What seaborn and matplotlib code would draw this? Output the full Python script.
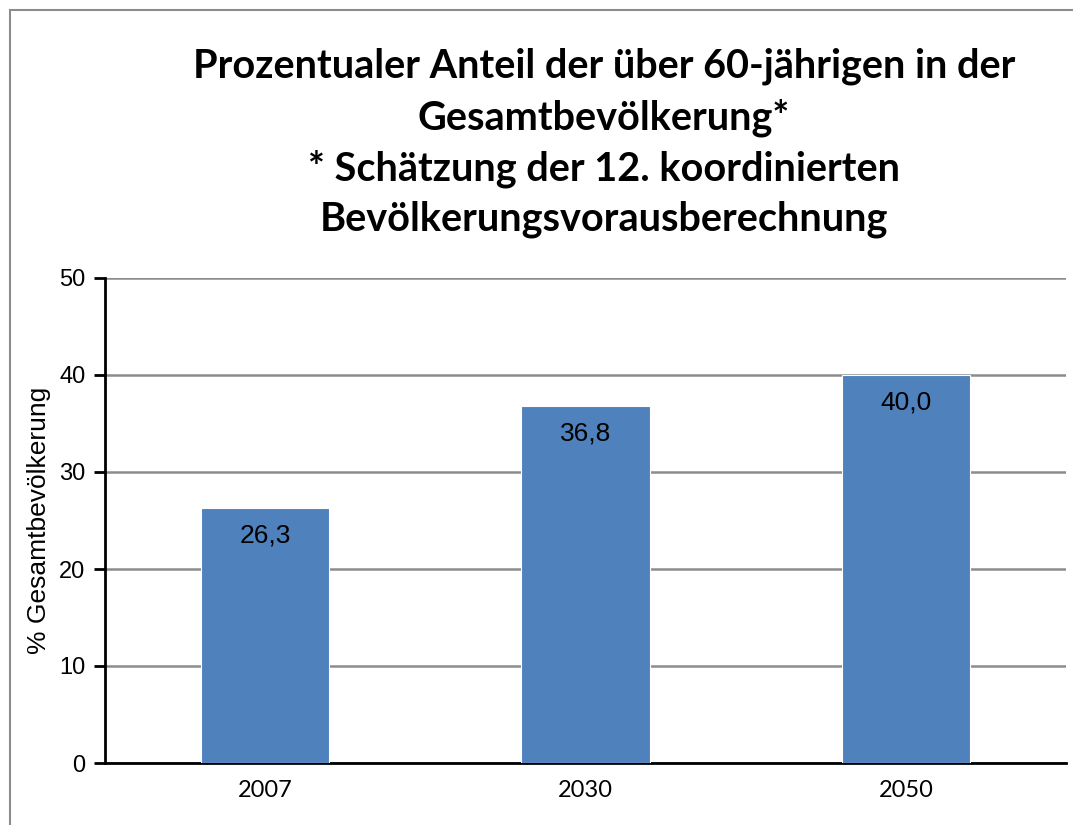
import matplotlib
matplotlib.use("Agg")
import matplotlib.pyplot as plt
import seaborn as sns
import pandas as pd
from matplotlib.patches import Rectangle

# data
years = ["2007", "2030", "2050"]
anteil = [26.3, 36.8, 40.0]
yticks = [0, 10, 20, 30, 40, 50]

title = ("Prozentualer Anteil der über 60-jährigen in der\n"
         "Gesamtbevölkerung*\n"
         "* Schätzung der 12. koordinierten\n"
         "Bevölkerungsvorausberechnung")

sns.set_style("white")
plt.rcParams['font.family'] = ['Liberation Sans', 'DejaVu Sans']
plt.rcParams['text.color'] = 'black'
plt.rcParams['axes.labelcolor'] = 'black'
plt.rcParams['xtick.color'] = 'black'
plt.rcParams['ytick.color'] = 'black'

df = pd.DataFrame({"Jahr": years, "Anteil": anteil})

fig = plt.figure(figsize=(10.73, 8.25), dpi=100)
ax = fig.add_axes([105 / 1073, 62 / 825, 961 / 1073, 485 / 825])

sns.barplot(data=df, x="Jahr", y="Anteil", color="#4F81BD", saturation=1,
            width=0.4, ax=ax, edgecolor="white", linewidth=0.8, zorder=3)

ax.set_ylim(0, 50)
ax.set_yticks(yticks)
ax.yaxis.grid(True, color="#8c8c8c", linewidth=1.8, zorder=0)
ax.set_axisbelow(True)

for s in ["top", "right"]:
    ax.spines[s].set_visible(False)
for s in ["left", "bottom"]:
    ax.spines[s].set_color("black")
    ax.spines[s].set_linewidth(2)

ax.tick_params(axis="y", which="major", direction="out", length=8, width=2,
               color="black", labelsize=17, pad=6, left=True)
ax.tick_params(axis="x", length=0, pad=12)
for t in ax.get_xticklabels():
    t.set_fontfamily("Lato")
    t.set_fontsize(17)

ax.set_xlabel("")
ax.set_ylabel("% Gesamtbevölkerung", fontsize=19, labelpad=6)

labels = [f"{v:.1f}".replace(".", ",") for v in anteil]
txts = ax.bar_label(ax.containers[0], labels=labels, padding=-20, fontsize=19)
for t in txts:
    t.set_va("center")

fig.text(604 / 1073, 1 - 143 / 825, title, ha="center", va="center",
         fontsize=28.5, fontweight="bold", fontfamily="Lato", linespacing=1.42)

# outer chart border
fig.patches.append(Rectangle((10 / 1073, -0.1), 1.2, 1 - 10 / 825 + 0.1,
                             transform=fig.transFigure, fill=False,
                             edgecolor="#8c8c8c", linewidth=1.5))

fig.savefig("out.png", dpi=100)
